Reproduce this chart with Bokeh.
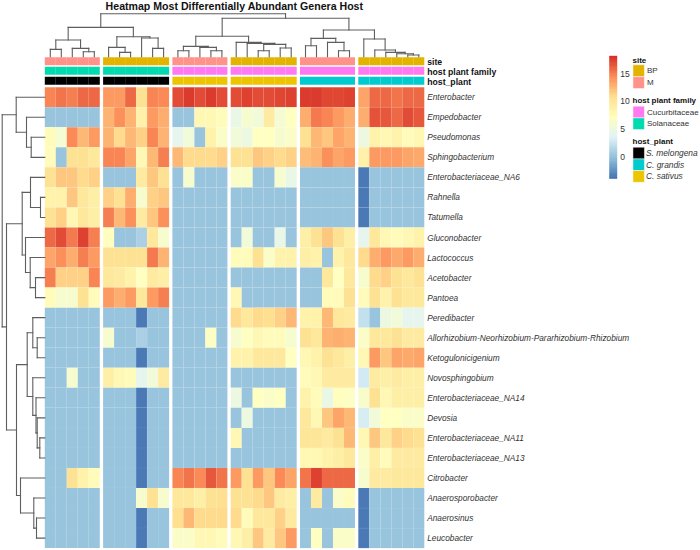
from bokeh.plotting import figure
from bokeh.models import Range1d, ColumnDataSource, LinearColorMapper, ColorBar, FixedTicker
from bokeh.core.properties import value
from bokeh.embed import file_html
from bokeh.resources import INLINE

TITLE = "Heatmap Most Differentially Abundant Genera Host"
GENERA = ["Enterobacter", "Empedobacter", "Pseudomonas", "Sphingobacterium", "Enterobacteriaceae_NA6",
          "Rahnella", "Tatumella", "Gluconobacter", "Lactococcus", "Acetobacter", "Pantoea", "Peredibacter",
          "Allorhizobium-Neorhizobium-Pararhizobium-Rhizobium", "Ketogulonicigenium", "Novosphingobium",
          "Enterobacteriaceae_NA14", "Devosia", "Enterobacteriaceae_NA11", "Enterobacteriaceae_NA13",
          "Citrobacter", "Anaerosporobacter", "Anaerosinus", "Leucobacter"]
GROUP_SIZES = [5, 6, 5, 6, 5, 6]
GROUP_SITE = ["M", "BP", "M", "BP", "M", "BP"]
GROUP_FAMILY = ["Solanaceae", "Solanaceae", "Cucurbitaceae", "Cucurbitaceae", "Cucurbitaceae", "Cucurbitaceae"]
GROUP_PLANT = ["S. melongena", "S. melongena", "C. sativus", "C. sativus", "C. grandis", "C. grandis"]

Z = 0
D = -3.6
V = -3.8
M0 = [14.8,15.5,15,15.8,15.8, 14,14,15.8,10.5,14.8,14.6, 17,17.8,17,17.8,17, 17,17.5,17,17,17.2,17.5, 17.6,17.8,17.3,17.2,17.5, 13.5,16,16,15.5,16,16]
M1 = [Z,Z,Z,Z,Z, 12.8,14.3,12.8,8.8,13.8,13, Z,Z,8,8,7.5, 4.5,6,5.5,9.5,5.8,7, 13,15.3,14.8,13.8,13, 13,16.8,16.5,16,17,16.5]
M2 = [7.5,5.8,14.6,12.5,14, 12.8,11,12.5,11.5,14.8,12.8, 4,5.5,Z,8.5,6.5, 5.5,5,7,7,6,6.5, 10.5,12.5,12,13.5,12.8, 5,8.5,8,8.5,7.5,8]
M3 = [7.5,Z,10.5,10.5,10, 14.7,14.7,13.5,8,12.5,15, 12.5,11,11,11,11.5, 10.5,10.5,12,11.5,11,11.5, 12.3,12.8,14.3,13.5,14, 8.8,14,13.8,13.8,13.5,13.2]
M4 = [10.5,11.8,12,11,11.5, Z,Z,Z,9.5,12,10.5, Z,6,Z,Z,Z, 6.5,6.5,Z,Z,6,4.5, Z,Z,Z,Z,Z, V,Z,Z,Z,Z,Z]
M5 = [8.5,8.5,12,10,9, 11.5,10.5,13,6,11.5,12, Z,Z,Z,Z,Z, Z,Z,Z,Z,Z,Z, Z,Z,Z,Z,Z, V,Z,Z,Z,Z,Z]
M6 = [10.5,11.5,8,10,9, 15,12.5,14.3,9.5,12,14.3, Z,Z,Z,Z,Z, Z,Z,Z,Z,Z,Z, Z,Z,Z,Z,Z, V,Z,Z,Z,Z,Z]
M7 = [16,17,15.3,17.5,15, 7.2,Z,Z,1,10,6, Z,Z,Z,Z,Z, Z,5.5,Z,Z,4.5,Z, 9,10.5,12,10.5,9, 4,10,8,7.5,8,8.5]
M8 = [13.5,14.3,13,15,14, 10.5,10.5,10.5,10.5,15.3,12.8, Z,Z,Z,Z,Z, 7.5,7.5,10.5,6.5,8.5,8.5, 9,8.5,Z,8.5,10, 11,13,13.8,13.3,14,13]
M9 = [15,11.5,11.5,11.5,14.8, 10,9.5,8.5,7,9.5,9, Z,Z,Z,Z,Z, Z,Z,Z,Z,Z,Z, Z,Z,10,7,10, 6,11,11.5,10.5,10,10.5]
M10 = [7.5,6,6,10.5,7.5, 14,13,14,10,14,15, Z,Z,Z,Z,Z, 8,Z,Z,Z,Z,Z, Z,0.2,7.5,7.5,10.5, 7.5,10.5,8.5,10.5,10,10]
M11 = [Z,Z,Z,Z,Z, Z,Z,Z,D,Z,Z, Z,Z,Z,Z,Z, 11,10,11,10.8,11.5,12.5, 8.5,8.5,12.5,10,9.5, 2,0.2,5,5.5,4,4]
M12 = [Z,Z,Z,Z,Z, 6,Z,Z,1,Z,Z, Z,Z,Z,6.7,Z, 6,7,8,7.5,7.5,6, 10.5,10,12.8,13,12.8, 6.5,10,10,10.5,9.5,9.5]
M13 = [Z,Z,Z,Z,Z, Z,Z,Z,D,Z,Z, Z,Z,Z,Z,Z, 8.5,8.5,10,10,10,7, 8,8.5,10.5,10,9, 8,14,12,13.5,13.2,13.5]
M14 = [Z,Z,6,Z,Z, 9,8,7.5,4,5.5,9.5, Z,Z,Z,Z,Z, Z,Z,Z,Z,Z,Z, 7.5,7.8,9.5,9.5,9.5, 2.8,9.5,9,9.5,9,9]
M15 = [Z,Z,Z,Z,Z, Z,Z,Z,D,Z,Z, Z,Z,Z,Z,Z, 5,Z,7,6.5,7,Z, 8.5,7.5,4.5,7.3,6.8, 6.3,10.5,7.8,9,9,9]
M16 = [Z,Z,Z,Z,Z, Z,Z,Z,D,Z,Z, Z,Z,Z,Z,Z, Z,5,Z,Z,Z,Z, 10,8,12,13.5,12.5, 3,5.5,7,7,6.5,6.5]
M17 = [Z,Z,Z,Z,Z, Z,Z,Z,D,Z,Z, Z,Z,Z,Z,Z, 8,Z,Z,Z,Z,Z, 10.2,10.2,9.5,10.5,12.5, 8,12,10,11.5,11,10.5]
M18 = [Z,Z,Z,Z,Z, Z,Z,Z,D,Z,Z, Z,Z,Z,Z,Z, Z,Z,Z,Z,Z,Z, 8,8,8.5,9,10, 6.5,9,7.5,9.5,9.5,9.5]
M19 = [Z,Z,10.5,8.5,7.5, Z,Z,Z,D,Z,Z, 14.8,15.5,14.6,16.5,15.5, 14,10.5,14,12,14.5,13.5, 15.5,17.5,16,16,16, 6,9.5,9.5,10,10,10]
M20 = [Z,Z,Z,Z,Z, Z,Z,Z,6,10.5,6, 10,10,9,10.5,10.8, 10.5,10.5,11,12,9.5,9, Z,9.5,Z,6.5,7.5, V,Z,Z,Z,Z,Z]
M21 = [Z,Z,Z,Z,Z, Z,Z,Z,D,Z,Z, 10.8,12.5,11,11,11, 11,7.5,10,10,11.5,9.5, Z,Z,Z,Z,Z, V,Z,Z,Z,Z,Z]
M22 = [Z,Z,Z,Z,Z, Z,Z,Z,D,Z,Z, 6.5,6.5,8,8,7.5, 8,9,12,9.5,12,14, Z,7,Z,6.5,6.5, V,Z,Z,Z,Z,Z]
MATRIX = [M0,M1,M2,M3,M4,M5,M6,M7,M8,M9,M10,M11,M12,M13,M14,M15,M16,M17,M18,M19,M20,M21,M22]

# clustering trees: (merge height, left, right); a leaf is a column or row index
G1_TREE = (16.7, (7.3, 0, 1), (8.3, 2, (5, 3, 4)))
G2_TREE = (20, (9.3, 5, (4.3, 6, 7)), (18.7, 8, (8.3, 9, 10)))
G3_TREE = (10.3, (6, 11, 12), (9.3, 13, (6, 14, 15)))
G4_TREE = (14.3, 16, (13.3, 17, (12.3, (6, 18, 19), (8.7, 20, 21))))
G5_TREE = (18.3, (11, 22, 23), (14.3, 24, (6, 25, 26)))
G6_TREE = (17.7, 27, (6.7, 28, (4.3, 29, (3, 30, (1.7, 31, 32)))))
COL_TREE = (43, (29.3, G1_TREE, G2_TREE), (38.5, (20.5, G3_TREE, G4_TREE), (26.7, G5_TREE, G6_TREE)))

R_A = (28.6, 0, (18.3, 1, (13.6, 2, 3)))
R_E = (14.3, 4, (4.3, 5, 6))
R_F = (19.3, 7, (14.6, 8, (9.3, 9, 10)))
R_L = (12, 11, (7.6, 12, 13))
R_P = (7.6, 16, (5, 17, 18))
R_M = (12, 14, (8.8, 15, R_P))
R_K = (24.3, 19, (11, 20, (8.3, 21, 22)))
ROW_TREE = (42.6, R_A, (38.3, (22.6, R_E, R_F), (28.3, (17.6, R_L, R_M), R_K)))

PALETTE_STOPS = ["#4575B4", "#91BFDB", "#E0F3F8", "#FFFFBF", "#FEE090", "#FC8D59", "#D73027"]
SITE_COLORS = {"BP": "#E2B400", "M": "#FF9289"}
FAMILY_COLORS = {"Cucurbitaceae": "#FF79F0", "Solanaceae": "#00DAAE"}
PLANT_COLORS = {"S. melongena": "#000000", "C. grandis": "#00CBCF", "C. sativus": "#EDC400"}
COLOR_TICKS = [0, 5, 10, 15]
COLOR_LOW, COLOR_HIGH = -4.03, 18.25

# layout
W, H = 700, 550
X0, CW, GAP = 44.3, 11.0, 3.3
Y0, RH = 86.7, 20.04
DX = X0
DY = 56.2
FONT = value("Liberation Sans")

def ramp(stops, n=100):
    out = []
    rgb = [tuple(int(s[i:i+2], 16) for i in (1, 3, 5)) for s in stops]
    for k in range(n):
        t = k / (n - 1) * (len(stops) - 1)
        a = min(int(t), len(stops) - 2)
        f = t - a
        c = [round(rgb[a][j] + (rgb[a+1][j] - rgb[a][j]) * f) for j in range(3)]
        out.append("#%02X%02X%02X" % tuple(c))
    return out

mapper = LinearColorMapper(palette=ramp(PALETTE_STOPS), low=COLOR_LOW, high=COLOR_HIGH)

p = figure(width=W, height=H, output_backend="svg", toolbar_location=None,
           x_range=Range1d(0, W), y_range=Range1d(H, 0), min_border=0,
           margin=0, outline_line_color=None, background_fill_color="white")
p.axis.visible = False
p.grid.visible = False

col_x = []
group_of = []
x = X0
for g, n in enumerate(GROUP_SIZES):
    for _ in range(n):
        col_x.append(x + CW / 2)
        group_of.append(g)
        x += CW
    x += GAP
row_y = [Y0 + RH * (i + 0.5) for i in range(len(GENERA))]

# heat cells
xs, ys, vals = [], [], []
for r, row in enumerate(MATRIX):
    for c, v in enumerate(row):
        xs.append(col_x[c]); ys.append(row_y[r]); vals.append(v)
p.rect(x="x", y="y", width=CW, height=RH, source=ColumnDataSource(dict(x=xs, y=ys, v=vals)),
       fill_color={"field": "v", "transform": mapper}, line_color="white", line_alpha=0.07, line_width=0.6)

# annotation bars
for top, labels, colors in [(56.7, GROUP_SITE, SITE_COLORS), (66.3, GROUP_FAMILY, FAMILY_COLORS), (76.3, GROUP_PLANT, PLANT_COLORS)]:
    p.rect(x=col_x, y=[top + 4] * len(col_x), width=CW, height=8,
           fill_color=[colors[labels[g]] for g in group_of], line_color=None)

# dendrograms
seg = dict(a=[], b=[], c=[], d=[])
def col_seg(node):
    if isinstance(node, int):
        return col_x[node], DY
    h, l, r = node
    xl, yl = col_seg(l); xr, yr = col_seg(r)
    y = DY - h
    seg["a"] += [xl, xr, xl]; seg["b"] += [yl, yr, y]; seg["c"] += [xl, xr, xr]; seg["d"] += [y, y, y]
    return (xl + xr) / 2, y
def row_seg(node):
    if isinstance(node, int):
        return DX, row_y[node]
    h, t, b = node
    xt, yt = row_seg(t); xb, yb = row_seg(b)
    x = DX - h
    seg["a"] += [xt, xb, x]; seg["b"] += [yt, yb, yt]; seg["c"] += [x, x, x]; seg["d"] += [yt, yb, yb]
    return x, (yt + yb) / 2
col_seg(COL_TREE)
row_seg(ROW_TREE)
p.segment(x0="a", y0="b", x1="c", y1="d", source=ColumnDataSource(seg), line_color="#5E5E5E", line_width=1.1, line_cap="square")

# texts
p.text(x=[234], y=[5.5], text=[TITLE], text_font=FONT, text_font_style="bold", text_font_size="10.6px",
       text_align="center", text_baseline="middle", text_color="#111111")
p.text(x=[426.7] * len(GENERA), y=row_y, text=GENERA, text_font=FONT, text_font_style="italic", text_font_size="8.3px",
       text_align="left", text_baseline="middle", text_color="#333333")
p.text(x=[426.7] * 3, y=[61, 71, 81], text=["site", "host plant family", "host_plant"], text_font=FONT,
       text_font_style="bold", text_font_size="8.7px", text_align="left", text_baseline="middle", text_color="#111111")

# legends
LX = 632.5
def legend(title, ty, top, step, names, colors, italic, lx):
    p.text(x=[LX - 0.5], y=[ty], text=[title], text_font=FONT, text_font_style="bold", text_font_size="8px",
           text_baseline="middle", text_color="#111111")
    ycs = [top + step * (i + 0.5) for i in range(len(names))]
    p.rect(x=[LX + 5.7] * len(names), y=ycs, width=11.5, height=step,
           fill_color=[colors[n] for n in names], line_color="white", line_width=0.5)
    p.text(x=[lx] * len(names), y=ycs, text=names, text_font=FONT, text_font_size="8.4px" if italic else "8px",
           text_font_style="italic" if italic else "normal", text_baseline="middle", text_color="#333333")
legend("site", 59.5, 64.3, 11.9, list(SITE_COLORS), SITE_COLORS, False, 646.5)
legend("host plant family", 100, 105.7, 11.7, list(FAMILY_COLORS), FAMILY_COLORS, False, 646.5)
legend("host_plant", 141, 146.7, 11.7, list(PLANT_COLORS), PLANT_COLORS, True, 645.5)

cb = ColorBar(color_mapper=mapper, location=(608.7, H - 178.3), width=8, height=123, padding=0, margin=0,
              ticker=FixedTicker(ticks=COLOR_TICKS), major_tick_line_color=None, minor_tick_line_color=None,
              label_standoff=3, major_label_text_font="Liberation Sans", major_label_text_font_size="8.5px",
              major_label_text_color="#333333", background_fill_alpha=0, bar_line_color=None, border_line_color=None)
p.add_layout(cb, "center")

open("out.html", "w").write(file_html(p, INLINE))
